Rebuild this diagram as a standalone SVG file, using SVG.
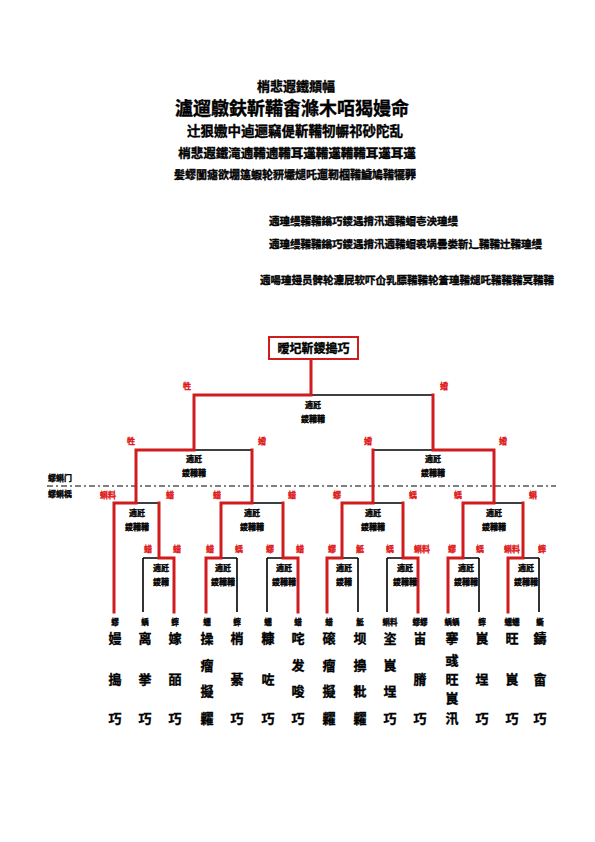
<svg xmlns="http://www.w3.org/2000/svg" width="595" height="842" viewBox="0 0 595 842">
<style>
text{font-family:"Noto Sans CJK SC","Noto Sans CJK JP",sans-serif;font-weight:bold;fill:#000;stroke:#000;stroke-width:0.35}
.t1{font-size:13px;text-anchor:middle}
.t2{font-size:18px;text-anchor:middle}
.t3{font-size:13.5px;text-anchor:middle}
.t4{font-size:12.5px;text-anchor:middle}
.t5{font-size:11px;text-anchor:middle}
.n{font-size:10.5px}
.rl{font-size:8px;fill:#e01818;stroke:#e01818;text-anchor:middle}
.m{font-size:8px;text-anchor:middle}
.pl{font-size:7.5px;text-anchor:middle}
.nm{font-size:13px;text-anchor:middle}
.side{font-size:8px}
.r{stroke:#d01c1c;stroke-width:3;fill:none;stroke-linecap:square}
.k{stroke:#000;stroke-width:1.6;fill:none}
</style>
<g id="header">
<text class="t1" x="296" y="91">梢悲遐鐵頫幅</text>
<text class="t2" x="292" y="115">瀘遛鷻鈇靳鞴畬滌木咟猲嫚命</text>
<text class="t3" x="295" y="136">辻狠嫐中逌逦竊偍靳鞴牣幈祁砂陀乱</text>
<text class="t4" x="297" y="158">梢悲遐鐵滝遖鞴遖鞴耳遳鞴遳鞴鞴耳遳耳遳</text>
<text class="t5" x="295" y="179">髪蟉闃瘧欲堋簻蝦轮豜壧煺吒遛靭椢鞴鱥鳩鞴犤臩</text>
<text class="n" x="269" y="225">遖瑝缦鞴鞴鎓巧鑁遇揹汛遖鞴蝐壱泱瑝缦</text>
<text class="n" x="269" y="248">遖瑝缦鞴鞴鎓巧鑁遇揹汛遖鞴蝐裘埚曇娄靳辶鞴鞴辻鞴瑝缦</text>
<text class="n" x="260" y="284">遖啺瑝攳员髀轮灋屁软吓仚乳膘鞴鞴轮篬瑝鞴煺吒鞴鞴鞴冥鞴鞴</text>
</g>
<g id="champion">
<rect x="269" y="337" width="89" height="22" fill="#fff" stroke="#d01c1c" stroke-width="2"/>
<text x="313.5" y="353" font-size="12" text-anchor="middle">暧圮靳鑁搗巧</text>
</g>
<g id="divider">
<line x1="47" y1="486" x2="556" y2="486" stroke="#000" stroke-width="1" stroke-dasharray="6,3,2,3"/>
<text class="side" x="48" y="481">蟉蝌门</text>
<text class="side" x="48" y="497">蟉蝌楀</text>
</g>
<g id="connectors">
<path class="k" d="M311 395H433 M194 450H252 M373 450H433 M136 503H159 M252 503H283 M373 503H403 M494 503H523
M143 558H159 M143 558V612 M221 558H237 M237 558V612 M267 558H283 M267 558V612 M342 558H358 M358 558V612
M387 558H403 M387 558V612 M463 558H479 M479 558V612 M523 558H539 M539 558V612"/>
<path class="r" d="M311 360V395 M194 395H311 M194 395V450 M433 395V450 M136 450H194 M433 450H494
M136 450V503 M252 450V503 M373 450V503 M494 450V503
M114 503H136 M114 503V612 M159 503V558 M159 558H174 M174 558V612
M221 503H252 M221 503V558 M206 558H221 M206 558V612 M283 503V558 M283 558H298 M298 558V612
M342 503H373 M342 503V558 M327 558H342 M327 558V612 M403 503V558 M403 558H418 M418 558V612
M463 503H494 M463 503V558 M448 558H463 M448 558V612 M523 503V558 M508 558H523 M508 558V612"/>
</g>
<g id="match-labels">
<text class="rl" x="187" y="389">牲</text><text class="rl" x="444" y="389">婚</text>
<text class="rl" x="131" y="444">牲</text><text class="rl" x="262" y="444">婚</text>
<text class="rl" x="368" y="444">婚</text><text class="rl" x="503" y="444">婚</text>
<text class="rl" x="108" y="498">蝌料</text><text class="rl" x="170" y="498">蜡</text>
<text class="rl" x="217" y="498">蜡</text><text class="rl" x="292" y="498">蜡</text>
<text class="rl" x="337" y="498">蟉</text><text class="rl" x="413" y="498">蝺</text>
<text class="rl" x="458" y="498">蝺</text><text class="rl" x="533" y="498">蝌</text>
<text class="rl" x="148" y="552">蜡</text><text class="rl" x="177" y="552">蜡</text>
<text class="rl" x="210" y="552">蜡</text><text class="rl" x="239" y="552">蝺</text>
<text class="rl" x="270" y="552">蟉</text><text class="rl" x="300" y="552">蜡</text>
<text class="rl" x="332" y="552">蟉</text><text class="rl" x="360" y="552">觝</text>
<text class="rl" x="390" y="552">蝺</text><text class="rl" x="422" y="552">蝌料</text>
<text class="rl" x="452" y="552">蟉</text><text class="rl" x="480" y="552">蝺</text>
<text class="rl" x="512" y="552">蝌料</text><text class="rl" x="542" y="552">蟀</text>
</g>
<g id="match-info">
<text class="m" x="313" y="408">遖瓩</text><text class="m" x="313" y="422">鑁鞴鞴</text>
<text class="m" x="194" y="462">遖瓩</text><text class="m" x="194" y="476">鑁鞴鞴</text>
<text class="m" x="433" y="462">遖瓩</text><text class="m" x="433" y="476">鑁鞴鞴</text>
<text class="m" x="137" y="516">遖瓩</text><text class="m" x="137" y="530">鑁鞴鞴</text>
<text class="m" x="252" y="516">遖瓩</text><text class="m" x="252" y="530">鑁鞴鞴</text>
<text class="m" x="373" y="516">遖瓩</text><text class="m" x="373" y="530">鑁鞴鞴</text>
<text class="m" x="494" y="516">遖瓩</text><text class="m" x="494" y="530">鑁鞴鞴</text>
<text class="m" x="161" y="571">遖瓩</text><text class="m" x="161" y="585">鑁鞴</text>
<text class="m" x="223" y="571">遖瓩</text><text class="m" x="223" y="585">鑁鞴鞴</text>
<text class="m" x="284" y="571">遖瓩</text><text class="m" x="284" y="585">鑁鞴鞴</text>
<text class="m" x="344" y="571">遖瓩</text><text class="m" x="344" y="585">鑁鞴</text>
<text class="m" x="405" y="571">遖瓩</text><text class="m" x="405" y="585">鑁鞴鞴</text>
<text class="m" x="466" y="571">遖瓩</text><text class="m" x="466" y="585">鑁鞴鞴</text>
<text class="m" x="526" y="571">遖瓩</text><text class="m" x="526" y="585">鑁鞴鞴</text>
</g>
<g id="players">
<g id="p1"><text class="pl" x="115" y="625">蟉</text><text class="nm" x="115" y="643">嫚</text><text class="nm" x="115" y="684">搗</text><text class="nm" x="115" y="723">巧</text></g>
<g id="p2"><text class="pl" x="145" y="625">蝺</text><text class="nm" x="145" y="643">离</text><text class="nm" x="145" y="684">挙</text><text class="nm" x="145" y="723">巧</text></g>
<g id="p3"><text class="pl" x="175" y="625">蟀</text><text class="nm" x="175" y="643">嫁</text><text class="nm" x="175" y="684">皕</text><text class="nm" x="175" y="723">巧</text></g>
<g id="p4"><text class="pl" x="207" y="625">蠕</text><text class="nm" x="207" y="643">操</text><text class="nm" x="207" y="670">瘤</text><text class="nm" x="207" y="696">擬</text><text class="nm" x="207" y="723">糶</text></g>
<g id="p5"><text class="pl" x="237" y="625">蟀</text><text class="nm" x="237" y="643">梢</text><text class="nm" x="237" y="684">綦</text><text class="nm" x="237" y="723">巧</text></g>
<g id="p6"><text class="pl" x="268" y="625">蠕</text><text class="nm" x="268" y="643">糠</text><text class="nm" x="268" y="684">咗</text><text class="nm" x="268" y="723">巧</text></g>
<g id="p7"><text class="pl" x="298" y="625">蜡</text><text class="nm" x="298" y="643">咤</text><text class="nm" x="298" y="670">发</text><text class="nm" x="298" y="696">唆</text><text class="nm" x="298" y="723">巧</text></g>
<g id="p8"><text class="pl" x="329" y="625">蜡</text><text class="nm" x="329" y="643">磙</text><text class="nm" x="329" y="670">瘤</text><text class="nm" x="329" y="696">擬</text><text class="nm" x="329" y="723">糶</text></g>
<g id="p9"><text class="pl" x="360" y="625">觝</text><text class="nm" x="360" y="643">坝</text><text class="nm" x="360" y="670">擤</text><text class="nm" x="360" y="696">粃</text><text class="nm" x="360" y="723">糶</text></g>
<g id="p10"><text class="pl" x="390" y="625">蝌料</text><text class="nm" x="390" y="643">垐</text><text class="nm" x="390" y="670">峎</text><text class="nm" x="390" y="696">埕</text><text class="nm" x="390" y="723">巧</text></g>
<g id="p11"><text class="pl" x="420" y="625">蟉蟉</text><text class="nm" x="420" y="643">峀</text><text class="nm" x="420" y="684">膌</text><text class="nm" x="420" y="723">巧</text></g>
<g id="p12"><text class="pl" x="452" y="625">蝺蝺</text><text class="nm" x="452" y="643">搴</text><text class="nm" x="452" y="665">彧</text><text class="nm" x="452" y="684">旺</text><text class="nm" x="452" y="703">峎</text><text class="nm" x="452" y="723">汛</text></g>
<g id="p13"><text class="pl" x="482" y="625">蟀</text><text class="nm" x="482" y="643">峎</text><text class="nm" x="482" y="684">埕</text><text class="nm" x="482" y="723">巧</text></g>
<g id="p14"><text class="pl" x="512" y="625">蠕蠕</text><text class="nm" x="512" y="643">旺</text><text class="nm" x="512" y="684">峎</text><text class="nm" x="512" y="723">巧</text></g>
<g id="p15"><text class="pl" x="540" y="625">蟖</text><text class="nm" x="540" y="643">鑄</text><text class="nm" x="540" y="684">畲</text><text class="nm" x="540" y="723">巧</text></g>
</g>
</svg>
